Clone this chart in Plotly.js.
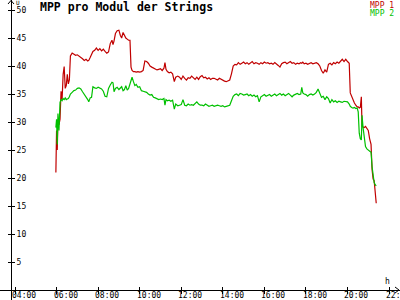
<!DOCTYPE html>
<html>
<head>
<meta charset="utf-8">
<script src="https://cdn.plot.ly/plotly-3.0.1.min.js"></script>
<style>html,body{margin:0;padding:0;background:#fff}#chart{width:400px;height:300px}</style>
</head>
<body>
<div id="chart"></div>
<script>
const day = '2024-06-01 ';
const seriesNames = ['MPP 1', 'MPP 2'];
const seriesColors = ['#c00000', '#00c000'];
const times = ['05:58','06:00','06:02','06:04','06:07','06:10','06:13','06:16','06:19','06:22','06:25','06:28','06:31','06:34','06:37','06:40','06:45','06:50','06:55','07:00','07:05','07:10','07:15','07:20','07:25','07:30','07:33','07:37','07:41','07:45','07:50','07:55','08:00','08:05','08:10','08:15','08:20','08:25','08:30','08:35','08:40','08:43','08:46','08:50','08:55','09:00','09:04','09:08','09:12','09:16','09:20','09:24','09:28','09:32','09:35','09:38','09:42','09:46','09:50','09:55','10:00','10:05','10:10','10:15','10:20','10:25','10:30','10:35','10:40','10:45','10:50','10:55','11:00','11:05','11:10','11:13','11:16','11:20','11:25','11:30','11:35','11:40','11:44','11:50','11:55','12:00','12:05','12:10','12:15','12:20','12:25','12:30','12:35','12:40','12:45','12:50','12:55','13:00','13:05','13:10','13:15','13:20','13:25','13:30','13:35','13:40','13:45','13:50','13:55','14:00','14:05','14:10','14:15','14:20','14:25','14:30','14:35','14:40','14:45','14:50','14:55','15:00','15:05','15:10','15:15','15:20','15:25','15:30','15:35','15:40','15:45','15:50','15:55','16:00','16:05','16:10','16:15','16:20','16:25','16:30','16:35','16:40','16:45','16:50','16:55','17:00','17:05','17:10','17:15','17:20','17:25','17:30','17:35','17:40','17:45','17:48','17:51','17:55','18:00','18:05','18:10','18:15','18:20','18:25','18:30','18:35','18:40','18:45','18:50','18:55','19:00','19:05','19:10','19:15','19:20','19:25','19:30','19:35','19:40','19:45','19:50','19:55','20:00','20:05','20:08','20:12','20:16','20:20','20:24','20:28','20:31','20:34','20:37','20:40','20:42','20:45','20:48','20:52','20:56','21:00','21:04','21:08','21:11','21:14','21:17','21:20','21:23'];
const mpp1 = [21.0,28.5,25.0,30.0,29.5,30.5,35.5,34.0,38.5,39.9,36.0,36.5,38.5,36.8,37.5,41.8,42.3,42.1,41.9,42.0,41.8,41.5,41.3,41.0,41.2,40.9,41.0,41.5,42.2,42.6,42.8,43.2,42.8,43.1,42.7,43.0,42.6,42.3,42.5,44.0,44.6,43.8,44.5,45.8,46.3,46.4,45.5,45.0,46.0,45.4,45.0,44.8,44.6,44.6,39.8,39.2,39.0,39.0,38.9,39.0,38.9,39.0,39.2,40.9,40.8,40.5,40.0,39.8,39.6,39.5,39.3,39.4,39.5,39.2,39.6,40.6,39.4,39.0,38.8,38.9,38.6,37.2,38.0,38.2,38.0,37.6,38.2,37.8,37.5,37.9,37.8,38.2,37.8,37.6,38.0,37.6,38.1,38.3,37.9,38.0,37.7,37.9,37.6,37.8,37.8,37.7,37.5,37.8,37.6,37.4,37.3,37.2,37.3,37.5,38.6,40.0,40.3,40.2,40.6,40.3,40.5,40.7,40.4,40.6,40.3,40.5,40.8,40.4,40.6,40.5,40.3,40.6,40.4,40.7,40.5,40.6,40.4,40.5,40.3,40.6,40.4,40.1,39.8,40.4,40.6,40.7,40.4,40.6,40.8,40.5,40.6,40.3,40.5,40.4,40.6,40.5,40.7,40.4,40.5,40.3,40.5,40.6,40.4,40.5,40.6,40.4,40.0,39.2,38.7,39.3,38.9,40.3,40.5,40.2,40.6,40.4,40.7,40.5,40.9,41.2,40.8,41.2,40.8,40.5,35.2,34.5,33.8,33.4,33.0,32.7,32.7,32.5,32.6,34.5,29.2,29.1,29.0,29.2,28.9,28.5,27.0,26.0,21.5,19.8,19.5,17.0,15.5];
const mpp2 = [29.0,30.5,26.0,31.5,28.5,33.5,34.0,33.8,34.2,34.0,34.3,34.0,34.1,34.2,34.5,35.0,35.3,35.6,35.7,36.0,36.1,35.9,35.4,35.0,34.6,34.0,33.6,34.3,34.4,36.3,36.1,36.0,36.2,36.1,35.9,35.5,34.6,34.5,36.0,36.6,37.1,37.0,35.4,36.0,36.2,35.8,36.0,36.3,35.6,35.8,36.5,35.7,36.0,36.8,37.0,38.0,37.2,36.5,36.7,36.2,36.3,35.6,35.5,35.4,35.3,35.0,34.8,34.9,34.4,34.3,34.1,34.0,34.1,34.0,34.2,33.0,34.0,33.8,33.9,33.7,33.9,32.3,33.2,32.9,33.0,33.1,34.0,33.0,32.9,33.2,33.0,33.1,33.0,33.3,33.6,33.2,33.0,33.0,32.9,33.2,33.0,32.8,32.9,33.0,32.8,32.9,33.0,32.9,32.8,32.9,32.7,32.8,32.9,33.0,33.8,34.6,34.9,35.0,34.7,35.1,35.0,34.8,34.9,35.0,34.7,34.9,34.6,34.8,34.5,34.7,33.6,34.5,34.7,34.9,34.6,34.8,34.9,34.6,34.8,35.0,34.7,34.9,35.1,34.8,35.0,34.7,34.9,35.1,34.8,34.5,34.8,35.0,35.1,34.9,35.0,36.2,35.2,35.0,34.9,34.6,34.9,35.0,34.8,35.0,35.3,35.9,35.2,34.4,34.6,34.0,34.5,34.2,33.4,34.0,33.6,33.8,33.5,33.7,33.6,33.5,33.7,33.6,33.6,33.2,32.8,32.6,32.5,32.6,32.4,32.5,31.8,28.0,27.0,26.8,31.2,29.0,27.0,25.6,25.2,25.0,24.8,24.6,22.0,20.5,19.2,18.8,18.6];
const xTickTimes = ['04:00','06:00','08:00','10:00','12:00','14:00','16:00','18:00','20:00','22:00'];
const yTickValues = [5,10,15,20,25,30,35,40,45,50];

const xs = times.map(t => day + t);
const font = 'DejaVu Sans Mono, monospace';
const xRange = [day + '03:16:42', day + '22:31:37'];
const yRange = [-10/5.6, 290/5.6];

const traces = [mpp1, mpp2].map((v, i) => ({
  x: xs, y: v, type: 'scatter', mode: 'lines', name: seriesNames[i],
  line: {color: seriesColors[i], width: 1.2}, hoverinfo: 'skip'
}));
// invisible helper trace so that the overlaid tick axes get drawn
traces.push({x: [xRange[0]], y: [0], xaxis: 'x2', yaxis: 'y2', mode: 'markers', marker: {opacity: 0}, hoverinfo: 'skip', showlegend: false});

const px = v => v / 400, py = v => 1 - v / 300;
const layout = {
  width: 400, height: 300,
  margin: {l: 0, r: 0, t: 0, b: 0},
  paper_bgcolor: '#fff', plot_bgcolor: '#fff',
  showlegend: false,
  title: {text: '<b>MPP pro Modul der Strings</b>', x: px(40), xanchor: 'left', xref: 'paper', y: py(7), yref: 'paper', yanchor: 'middle', font: {family: font, size: 11.5, color: '#000'}},
  xaxis: {type: 'date', range: xRange, anchor: 'free', position: 10/300, showline: true, linecolor: '#000', linewidth: 1,
    ticks: 'outside', ticklen: 3, tickcolor: '#000', tickvals: xTickTimes.map(t => day + t), showticklabels: false,
    showgrid: false, zeroline: false},
  xaxis2: {type: 'date', range: xRange, overlaying: 'x', anchor: 'free', position: 10/300, showline: false,
    ticks: 'inside', ticklen: 3, tickcolor: '#000', tickvals: xTickTimes.map(t => day + t), showticklabels: false, showgrid: false, zeroline: false},
  yaxis: {range: yRange, anchor: 'free', position: px(11), side: 'right', showline: true, linecolor: '#000', linewidth: 1,
    ticks: 'outside', ticklen: 3, tickcolor: '#000', tickvals: yTickValues, ticktext: yTickValues.map(String),
    showgrid: false, zeroline: false, tickfont: {family: font, size: 8, color: '#000'}, ticklabelstandoff: 0},
  yaxis2: {range: yRange, overlaying: 'y', anchor: 'free', position: px(11), side: 'right', showline: false,
    ticks: 'inside', ticklen: 3, tickcolor: '#000', tickvals: yTickValues, showticklabels: false, showgrid: false, zeroline: false},
  shapes: [
    {type: 'path', xref: 'paper', yref: 'paper', path: `M ${px(8)} ${py(4)} L ${px(11)} ${py(0.5)} L ${px(14)} ${py(4)}`, line: {color: '#000', width: 1}},
    {type: 'path', xref: 'paper', yref: 'paper', path: `M ${px(395)} ${py(287)} L ${px(399)} ${py(290)} L ${px(395)} ${py(293)}`, line: {color: '#000', width: 1}}
  ],
  annotations: [
    ...xTickTimes.map(t => ({text: t, xref: 'x', yref: 'paper', x: day + t, xshift: -4, y: py(295.5), xanchor: 'left', yanchor: 'middle', showarrow: false, borderpad: 0, font: {family: font, size: 8, color: '#000'}})),
    ...seriesNames.map((n, i) => ({text: n, xref: 'paper', yref: 'paper', x: px(395), y: py(5.5 + 7.5 * i), xanchor: 'right', yanchor: 'middle', showarrow: false, borderpad: 0, font: {family: font, size: 8, color: seriesColors[i]}})),
    {text: 'U', xref: 'paper', yref: 'paper', x: px(14.5), y: py(2.5), xanchor: 'left', yanchor: 'middle', showarrow: false, borderpad: 0, font: {family: font, size: 6, color: '#000'}},
    {text: 'h', xref: 'paper', yref: 'paper', x: px(387), y: py(281), xanchor: 'center', yanchor: 'middle', showarrow: false, font: {family: font, size: 8, color: '#000'}}
  ]
};
Plotly.newPlot('chart', traces, layout, {displayModeBar: false, staticPlot: true});
</script>
</body>
</html>
